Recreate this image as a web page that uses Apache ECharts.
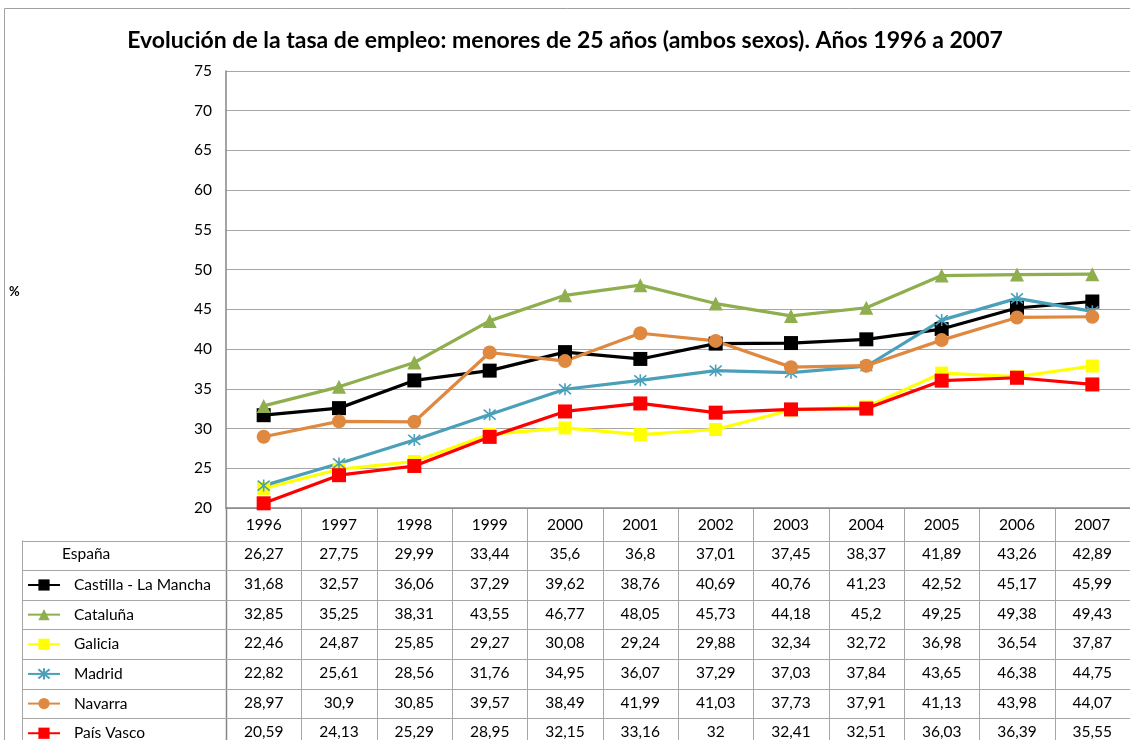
<!DOCTYPE html>
<html>
<head>
<meta charset="utf-8">
<title>Tasa de empleo menores de 25 años</title>
<script src="https://cdn.jsdelivr.net/npm/echarts@6/dist/echarts.min.js"></script>
<style>
    html, body { margin: 0; padding: 0; background: #ffffff; }
    #chart { width: 1130px; height: 740px; }
</style>
</head>
<body>
<div id="chart"></div>
<script>
    // datos (tasa de empleo, %)
    var years = ['1996', '1997', '1998', '1999', '2000', '2001', '2002', '2003', '2004', '2005', '2006', '2007'];
    var espana = [26.27, 27.75, 29.99, 33.44, 35.6, 36.8, 37.01, 37.45, 38.37, 41.89, 43.26, 42.89];
    var castilla = [31.68, 32.57, 36.06, 37.29, 39.62, 38.76, 40.69, 40.76, 41.23, 42.52, 45.17, 45.99];
    var cataluna = [32.85, 35.25, 38.31, 43.55, 46.77, 48.05, 45.73, 44.18, 45.2, 49.25, 49.38, 49.43];
    var galicia = [22.46, 24.87, 25.85, 29.27, 30.08, 29.24, 29.88, 32.34, 32.72, 36.98, 36.54, 37.87];
    var madrid = [22.82, 25.61, 28.56, 31.76, 34.95, 36.07, 37.29, 37.03, 37.84, 43.65, 46.38, 44.75];
    var navarra = [28.97, 30.9, 30.85, 39.57, 38.49, 41.99, 41.03, 37.73, 37.91, 41.13, 43.98, 44.07];
    var paisVasco = [20.59, 24.13, 25.29, 28.95, 32.15, 33.16, 32, 32.41, 32.51, 36.03, 36.39, 35.55];

    var yTicks = { min: 20, max: 75, step: 5 };

    var font = 'Lato, "Open Sans", sans-serif';
    var gridColor = '#a6a6a6';
    var axisColor = '#868686';
    var asterisk = 'path://M0,0L10,10M10,0L0,10M5,-1L5,11';

    function mkSerie(name, data, color, symbol, size) {
        return {
            name: name,
            type: 'line',
            data: data,
            symbol: symbol,
            symbolSize: size,
            showSymbol: true,
            lineStyle: { color: color, width: 3.2 },
            itemStyle: { color: color, borderColor: color, borderWidth: symbol === asterisk ? 1.6 : 0 },
            emphasis: { disabled: true },
            z: 3
        };
    }

    var series = [
        mkSerie('Castilla - La Mancha', castilla, '#000000', 'rect', 14),
        mkSerie('Cataluña', cataluna, '#8fae4e', 'triangle', 14),
        mkSerie('Galicia', galicia, '#ffff00', 'rect', 13),
        mkSerie('Madrid', madrid, '#4a9fb9', asterisk, 12),
        mkSerie('Navarra', navarra, '#df883f', 'circle', 14),
        mkSerie('País Vasco', paisVasco, '#ff0000', 'rect', 14)
    ];

    var tableTop = 540.5;
    var rowH = 29.65;

    // una leyenda por fila de la tabla (clave de la serie)
    var legends = series.map(function (s, i) {
        return {
            left: 27,
            top: tableTop + (i + 1.5) * rowH - 8,
            padding: 0,
            itemWidth: 32,
            itemHeight: 14,
            selectedMode: false,
            textStyle: { fontFamily: font, fontSize: 15.5, color: '#000000', padding: [0, 0, 0, 9] },
            data: [s.name]
        };
    });

    var myChart = echarts.init(document.getElementById('chart'));
    myChart.setOption({
        backgroundColor: '#ffffff',
        animation: false,
        textStyle: { fontFamily: font },
        title: {
            text: 'Evolución de la tasa de empleo: menores de 25 años (ambos sexos). Años 1996 a 2007',
            left: 'center',
            top: 24,
            textStyle: { fontFamily: font, fontSize: 23, fontWeight: 'bold', color: '#000000' }
        },
        legend: legends,
        grid: { left: 226, top: 71, width: 911, height: 437, containLabel: false },
        xAxis: {
            type: 'category',
            data: years,
            boundaryGap: true,
            axisLine: { lineStyle: { color: axisColor, width: 1.5 } },
            axisTick: { show: false },
            axisLabel: { color: '#000000', fontSize: 15.5, margin: 9, fontFamily: font }
        },
        yAxis: {
            type: 'value',
            min: yTicks.min,
            max: yTicks.max,
            interval: yTicks.step,
            axisLine: { show: true, lineStyle: { color: axisColor, width: 1.5 } },
            axisTick: { show: false },
            axisLabel: { color: '#000000', fontSize: 15.5, margin: 14, fontFamily: font },
            splitLine: { lineStyle: { color: gridColor, width: 1 } }
        },
        series: series
    });

    // tabla de datos debajo del eje
    function buildTable() {
        var c0 = myChart.convertToPixel({ xAxisIndex: 0 }, years[0]);
        var c1 = myChart.convertToPixel({ xAxisIndex: 0 }, years[1]);
        var w = c1 - c0;
        var xAxisY = myChart.convertToPixel({ yAxisIndex: 0 }, yTicks.min);
        var left0 = 22;
        var right0 = c0 - w / 2 + w * years.length;
        var bottom0 = 760;
        var el = [];
        var lineSty = { stroke: gridColor, lineWidth: 1 };

        // marco exterior
        el.push({ type: 'rect', shape: { x: 4.5, y: 8.5, width: 1200, height: 800 },
            style: { fill: null, stroke: '#a0a0a0', lineWidth: 1 }, silent: true });
        // etiqueta %
        el.push({ type: 'text', x: 9, y: 292, style: { text: '%', font: 'bold 13px ' + font, fill: '#000',
            textVerticalAlign: 'middle' }, silent: true });

        // lineas verticales
        for (var i = 0; i <= years.length; i++) {
            var x = Math.round(c0 - w / 2 + w * i) + 0.5;
            el.push({ type: 'line', shape: { x1: x, y1: xAxisY, x2: x, y2: bottom0 },
                style: i === 0 ? { stroke: axisColor, lineWidth: 1.5 } : lineSty, silent: true });
        }
        el.push({ type: 'line', shape: { x1: left0 + 0.5, y1: tableTop, x2: left0 + 0.5, y2: bottom0 }, style: lineSty, silent: true });

        // filas
        var rows = [espana, castilla, cataluna, galicia, madrid, navarra, paisVasco];
        for (var r = 0; r <= rows.length; r++) {
            var y = Math.round(tableTop + r * rowH) + 0.5;
            el.push({ type: 'line', shape: { x1: left0, y1: y, x2: right0, y2: y }, style: lineSty, silent: true });
        }
        el.push({ type: 'text', x: 62, y: tableTop + rowH / 2 - 1, style: { text: 'España', font: '15.5px ' + font,
            fill: '#000', textVerticalAlign: 'middle' }, silent: true });
        rows.forEach(function (vals, r) {
            vals.forEach(function (v, k) {
                el.push({ type: 'text', x: c0 + w * k, y: tableTop + (r + 0.5) * rowH - 1,
                    style: { text: String(v).replace('.', ','), font: '15.5px ' + font, fill: '#000',
                        textAlign: 'center', textVerticalAlign: 'middle' }, silent: true });
            });
        });
        myChart.setOption({ graphic: { elements: el } });
    }
    buildTable();
</script>
</body>
</html>
